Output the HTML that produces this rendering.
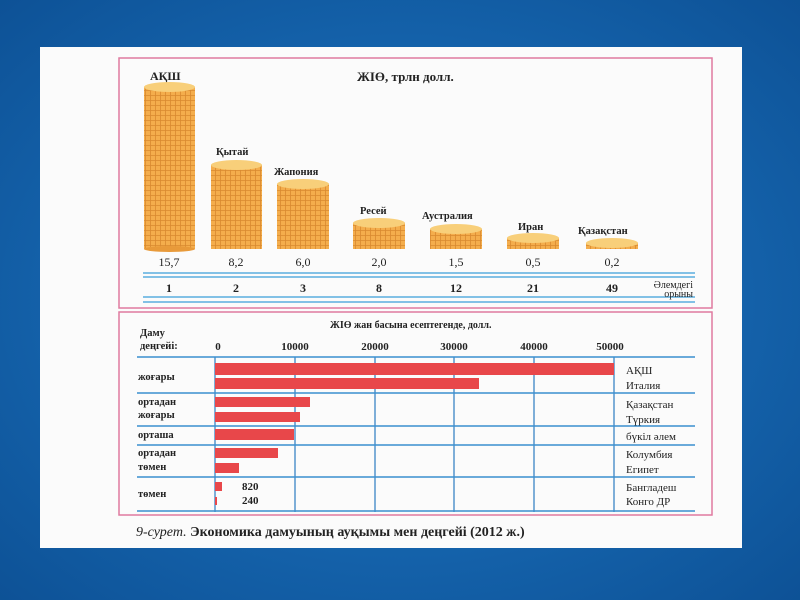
<!DOCTYPE html>
<html><head><meta charset="utf-8"><style>
html,body{margin:0;padding:0;width:800px;height:600px;overflow:hidden;background:#1565b0}
svg{display:block}
text{font-family:"Liberation Serif",serif;fill:#222}
</style></head><body>
<svg width="800" height="600" viewBox="0 0 800 600">
<defs>
<radialGradient id="bg" cx="50%" cy="50%" r="75%">
<stop offset="0" stop-color="#1f7ac8"/><stop offset="1" stop-color="#0c4f93"/>
</radialGradient>
<pattern id="grid" width="5" height="5" patternUnits="userSpaceOnUse">
<rect width="5" height="5" fill="#f4ad4c"/>
<path d="M0 0.5H5M0.5 0V5" stroke="#d9892f" stroke-width="0.8"/>
</pattern>
</defs>
<rect width="800" height="600" fill="url(#bg)"/>
<rect x="40" y="47" width="702" height="501" fill="#fbfbfb"/>
<!-- top box -->
<rect x="119" y="58" width="593" height="250" fill="none" stroke="#e07aa0" stroke-width="1.5"/>
<rect x="119" y="312" width="593" height="203" fill="none" stroke="#e07aa0" stroke-width="1.5"/>
<text x="150" y="80" font-size="12" font-weight="bold">АҚШ</text>
<text x="357" y="81" font-size="13" font-weight="bold">ЖІӨ, трлн долл.</text>
<g>
<rect x="144" y="87" width="51" height="162" fill="url(#grid)"/><ellipse cx="169.5" cy="87" rx="25.5" ry="5" fill="#f8cf7a"/><ellipse cx="169.5" cy="249" rx="25.5" ry="3" fill="#e89a3a"/>
<rect x="211" y="165" width="51" height="84" fill="url(#grid)"/><ellipse cx="236.5" cy="165" rx="25.5" ry="5" fill="#f8cf7a"/>
<rect x="277" y="184" width="52" height="65" fill="url(#grid)"/><ellipse cx="303" cy="184" rx="26" ry="5" fill="#f8cf7a"/>
<rect x="353" y="223" width="52" height="26" fill="url(#grid)"/><ellipse cx="379" cy="223" rx="26" ry="5" fill="#f8cf7a"/>
<rect x="430" y="229" width="52" height="20" fill="url(#grid)"/><ellipse cx="456" cy="229" rx="26" ry="5" fill="#f8cf7a"/>
<rect x="507" y="238" width="52" height="11" fill="url(#grid)"/><ellipse cx="533" cy="238" rx="26" ry="5" fill="#f8cf7a"/>
<rect x="586" y="243" width="52" height="6" fill="url(#grid)"/><ellipse cx="612" cy="243" rx="26" ry="5" fill="#f8cf7a"/>
</g>
<g font-size="10.5" font-weight="bold">
<text x="216" y="155">Қытай</text><text x="274" y="175">Жапония</text>
<text x="360" y="214">Ресей</text><text x="422" y="219">Аустралия</text>
<text x="518" y="230">Иран</text><text x="578" y="234">Қазақстан</text>
</g>
<g font-size="12" text-anchor="middle">
<text x="169" y="266">15,7</text><text x="236" y="266">8,2</text><text x="303" y="266">6,0</text>
<text x="379" y="266">2,0</text><text x="456" y="266">1,5</text><text x="533" y="266">0,5</text><text x="612" y="266">0,2</text>
<g font-weight="bold"><text x="169" y="292">1</text><text x="236" y="292">2</text><text x="303" y="292">3</text>
<text x="379" y="292">8</text><text x="456" y="292">12</text><text x="533" y="292">21</text><text x="612" y="292">49</text></g>
</g>
<g stroke="#5aaee0" stroke-width="1.5">
<line x1="143" y1="273" x2="695" y2="273"/><line x1="143" y1="277" x2="695" y2="277"/>
<line x1="143" y1="297" x2="695" y2="297"/><line x1="143" y1="302" x2="695" y2="302"/>
</g>
<text x="693" y="288" font-size="10" text-anchor="end">Әлемдегі</text>
<text x="693" y="297" font-size="10" text-anchor="end">орыны</text>
<!-- bottom chart -->
<text x="330" y="328" font-size="10" font-weight="bold">ЖІӨ жан басына есептегенде, долл.</text>
<text x="140" y="336" font-size="10.5" font-weight="bold">Даму</text>
<text x="140" y="349" font-size="10.5" font-weight="bold">деңгейі:</text>
<g font-size="11" font-weight="bold" text-anchor="middle">
<text x="218" y="350">0</text><text x="295" y="350">10000</text><text x="375" y="350">20000</text>
<text x="454" y="350">30000</text><text x="534" y="350">40000</text><text x="610" y="350">50000</text>
</g>
<g stroke="#2b7cc0" stroke-width="1.2">
<line x1="215" y1="357" x2="215" y2="512"/><line x1="295" y1="357" x2="295" y2="512"/>
<line x1="375" y1="357" x2="375" y2="512"/><line x1="454" y1="357" x2="454" y2="512"/>
<line x1="534" y1="357" x2="534" y2="512"/><line x1="614" y1="357" x2="614" y2="512"/>
</g>
<g stroke="#3a8fd0" stroke-width="1.5">
<line x1="137" y1="357" x2="695" y2="357"/><line x1="137" y1="393" x2="695" y2="393"/>
<line x1="137" y1="426" x2="695" y2="426"/><line x1="137" y1="445" x2="695" y2="445"/>
<line x1="137" y1="477" x2="695" y2="477"/><line x1="137" y1="511" x2="695" y2="511"/>
</g>
<g fill="#e8474a">
<rect x="215" y="363" width="399" height="12"/><rect x="215" y="378" width="264" height="11"/>
<rect x="215" y="397" width="95" height="10"/><rect x="215" y="412" width="85" height="10"/>
<rect x="215" y="429" width="79" height="11"/><rect x="215" y="448" width="63" height="10"/>
<rect x="215" y="463" width="24" height="10"/><rect x="215" y="482" width="7" height="9"/>
<rect x="215" y="497" width="2" height="8"/>
</g>
<g font-size="10.5" font-weight="bold">
<text x="138" y="380">жоғары</text><text x="138" y="405">ортадан</text><text x="138" y="418">жоғары</text>
<text x="138" y="438">орташа</text><text x="138" y="456">ортадан</text><text x="138" y="470">төмен</text>
<text x="138" y="497">төмен</text>
</g>
<g font-size="11" font-weight="bold"><text x="242" y="490">820</text><text x="242" y="504">240</text></g>
<g font-size="11">
<text x="626" y="374">АҚШ</text><text x="626" y="389">Италия</text><text x="626" y="408">Қазақстан</text>
<text x="626" y="423">Түркия</text><text x="626" y="440">бүкіл әлем</text><text x="626" y="458">Колумбия</text>
<text x="626" y="473">Египет</text><text x="626" y="491">Бангладеш</text><text x="626" y="505">Конго ДР</text>
</g>
<text x="136" y="536" font-size="14" font-weight="bold"><tspan font-style="italic" font-weight="normal">9-сурет.</tspan> Экономика дамуының ауқымы мен деңгейі (2012 ж.)</text>
</svg>
</body></html>
